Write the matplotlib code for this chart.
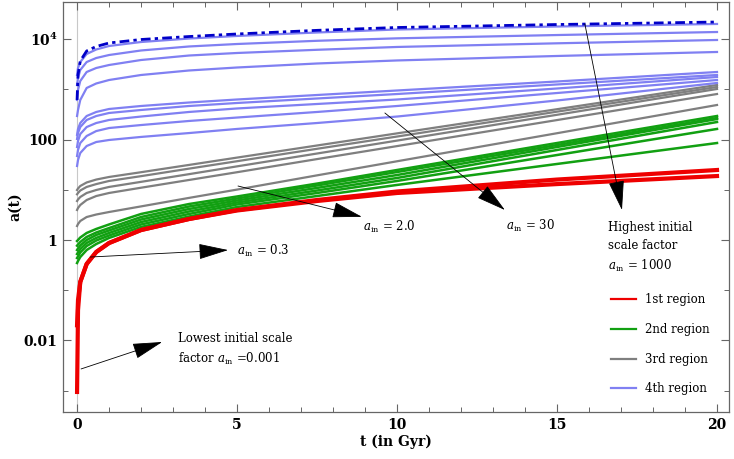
import matplotlib
matplotlib.use('Agg')
import matplotlib.pyplot as plt

plt.rcParams['font.family'] = 'DejaVu Serif'
plt.rcParams['mathtext.fontset'] = 'dejavuserif'

# time samples (Gyr) at which the curves were read
t_gyr = [0, 0.03, 0.1, 0.3, 0.6, 1, 2, 3.5, 5, 7.5, 10, 15, 20]

# 1st region (red)
red_curves = [
    [0.00094, 0.040, 0.146, 0.333, 0.577, 0.871, 1.58, 2.62, 3.87, 5.98, 8.64, 13.0, 18.8],
    [0.02, 0.064, 0.146, 0.333, 0.577, 0.871, 1.58, 2.62, 3.96, 6.27, 9.25, 16.0, 24.8],
]

# 2nd region (green)
green_curves = [
    [0.955, 1.0, 1.12, 1.38, 1.66, 2.04, 3.30, 5.21, 7.36, 13.3, 24.8, 85.5, 295],
    [0.770, 0.814, 0.912, 1.15, 1.41, 1.73, 2.87, 4.65, 6.71, 12.2, 22.6, 78.0, 269],
    [0.632, 0.677, 0.777, 1.0, 1.26, 1.55, 2.56, 4.15, 6.12, 10.9, 19.7, 71.2, 257],
    [0.526, 0.564, 0.662, 0.872, 1.10, 1.38, 2.28, 3.70, 5.58, 9.68, 17.2, 62.1, 224],
    [0.438, 0.469, 0.564, 0.759, 0.977, 1.23, 2.04, 3.30, 5.10, 8.64, 15.0, 49.3, 163],
    [0.348, 0.382, 0.458, 0.632, 0.833, 1.10, 1.82, 2.94, 4.54, 7.52, 12.5, 32.7, 85.5],
]

# 3rd region (gray)
gray_curves = [
    [9.91, 10.6, 11.9, 14.0, 16.0, 18.0, 22.4, 31.3, 43.8, 76.3, 133, 403, 1224],
    [8.13, 8.64, 9.68, 11.4, 13.0, 15.0, 18.7, 26.4, 37.1, 65.6, 115, 360, 1117],
    [5.98, 6.41, 7.19, 8.64, 9.91, 11.4, 14.4, 20.5, 29.3, 52.8, 95.5, 312, 1019],
    [3.96, 4.34, 4.98, 6.26, 7.52, 8.64, 11.0, 15.7, 22.4, 40.9, 74.2, 245, 809],
    [1.90, 2.08, 2.39, 2.87, 3.22, 3.61, 4.67, 6.90, 10.1, 19.4, 37.0, 134, 489],
]

# 4th region (blue)
blue_curves = [
    [124, 163, 214, 295, 355, 407, 467, 548, 629, 773, 951, 1437, 2222],
    [103, 135, 178, 246, 295, 339, 389, 467, 536, 659, 809, 1253, 1936],
    [71.2, 93.8, 129, 178, 214, 246, 288, 355, 417, 512, 629, 1042, 1766],
    [47.1, 62.1, 85.5, 118, 148, 170, 195, 235, 275, 355, 467, 847, 1538],
    [29.8, 39.2, 54.1, 74.5, 89.6, 98.2, 113, 135, 163, 214, 288, 601, 1341],
    [1936, 2670, 3510, 5070, 6240, 7320, 8790, 10300, 11600, 13600, 15600, 17900, 20100],
    [1224, 1687, 2434, 3510, 4220, 4840, 5960, 7160, 8020, 9290, 10400, 12100, 13900],
    [615, 973, 1469, 2222, 2670, 3060, 3850, 4730, 5310, 6150, 7000, 8280, 9640],
    [295, 389, 615, 1067, 1312, 1538, 1936, 2380, 2730, 3280, 3770, 4630, 5560],
]

# highest initial scale factor (dot-dashed)
top_curve = [615, 1936, 3680, 5820, 7160, 8400, 9860, 11300, 12700, 15000, 17100, 19600, 22000]

region_labels = ['1st region', '2nd region', '3rd region', '4th region']

fig = plt.figure(figsize=(7.34, 4.59), dpi=100)
ax = fig.add_axes([0.0858, 0.1024, 0.9074, 0.8932])

ax.axvline(0, color='#c8c8c8', lw=0.8, zorder=0)

for i, a in enumerate(gray_curves):
    l, = ax.plot(t_gyr, a, color='#7f7f7f', lw=1.6)
    if i == 0:
        h_gray = l
for i, a in enumerate(blue_curves):
    l, = ax.plot(t_gyr, a, color='#8080f2', lw=1.6)
    if i == 0:
        h_blue = l
for i, a in enumerate(green_curves):
    l, = ax.plot(t_gyr, a, color='#12a012', lw=1.8)
    if i == 0:
        h_green = l
for i, a in enumerate(red_curves):
    l, = ax.plot(t_gyr, a, color='#ee0000', lw=3.0)
    if i == 0:
        h_red = l
ax.plot(t_gyr, top_curve, color='#0000c8', lw=2.0, ls=(0, (3.5, 1.5, 1.2, 1.5)))

ax.set_yscale('log')
ax.set_xlim(-0.44, 20.375)
ax.set_ylim(3.75e-4, 5.5e4)

ax.set_xticks([0, 5, 10, 15, 20])
ax.set_xticks([i for i in range(21) if i % 5], minor=True)
ax.set_yticks([0.01, 1, 100, 1e4], labels=['0.01', '1', '100', r'$\mathbf{10^{4}}$'])
ax.set_yticks([1e-3, 0.1, 10, 1000], minor=True)
ax.yaxis.set_minor_formatter(plt.NullFormatter())
ax.tick_params(which='both', direction='in', top=True, right=True, color='#666666')
ax.tick_params(which='major', length=6, width=0.8, labelsize=10, pad=4)
ax.tick_params(which='minor', length=3.5, width=0.7)
for lab in ax.get_xticklabels() + ax.get_yticklabels():
    lab.set_fontweight('bold')
for sp in ax.spines.values():
    sp.set_color('#666666')
    sp.set_linewidth(0.9)

ax.set_xlabel('t (in Gyr)', fontsize=10, fontweight='bold', labelpad=2)
ax.set_ylabel('a(t)', fontsize=10, fontweight='bold', labelpad=1)

arrow = dict(arrowstyle='-|>,head_length=1.9,head_width=0.5', color='black',
             lw=0.6, shrinkA=0, shrinkB=0, mutation_scale=10)
ax.annotate('', xy=(2.66, 0.0093), xytext=(0.125, 0.0027), arrowprops=arrow)
ax.text(3.17, 0.0066, 'Lowest initial scale\nfactor $a_{\\mathrm{in}}$ =0.001',
        fontsize=8.5, va='center', ha='left', linespacing=1.5)
ax.annotate('', xy=(4.72, 0.63), xytext=(0.41, 0.458), arrowprops=arrow)
ax.text(5.0, 0.60, '$a_{\\mathrm{in}}$ = 0.3', fontsize=8.5, va='center')
ax.annotate('', xy=(8.9, 2.9), xytext=(5.03, 11.9), arrowprops=arrow)
ax.text(8.95, 1.8, '$a_{\\mathrm{in}}$ = 2.0', fontsize=8.5, va='center')
ax.annotate('', xy=(13.37, 3.96), xytext=(9.62, 339), arrowprops=arrow)
ax.text(13.4, 1.9, '$a_{\\mathrm{in}}$ = 30', fontsize=8.5, va='center')
ax.annotate('', xy=(17.03, 3.96), xytext=(15.87, 20100), arrowprops=arrow)
ax.text(16.6, 0.72, 'Highest initial\nscale factor\n$a_{\\mathrm{in}}$ = 1000',
        fontsize=8.5, va='center', ha='left', linespacing=1.5)

ax.legend([h_red, h_green, h_gray, h_blue], region_labels, loc='upper left',
          bbox_to_anchor=(0.823, 0.29), frameon=False, fontsize=8.5,
          handlelength=2.1, handletextpad=0.8, labelspacing=1.42,
          borderpad=0, borderaxespad=0)
for line in ax.get_legend().get_lines():
    line.set_linewidth(1.6)

fig.savefig('out.png', dpi=100)
